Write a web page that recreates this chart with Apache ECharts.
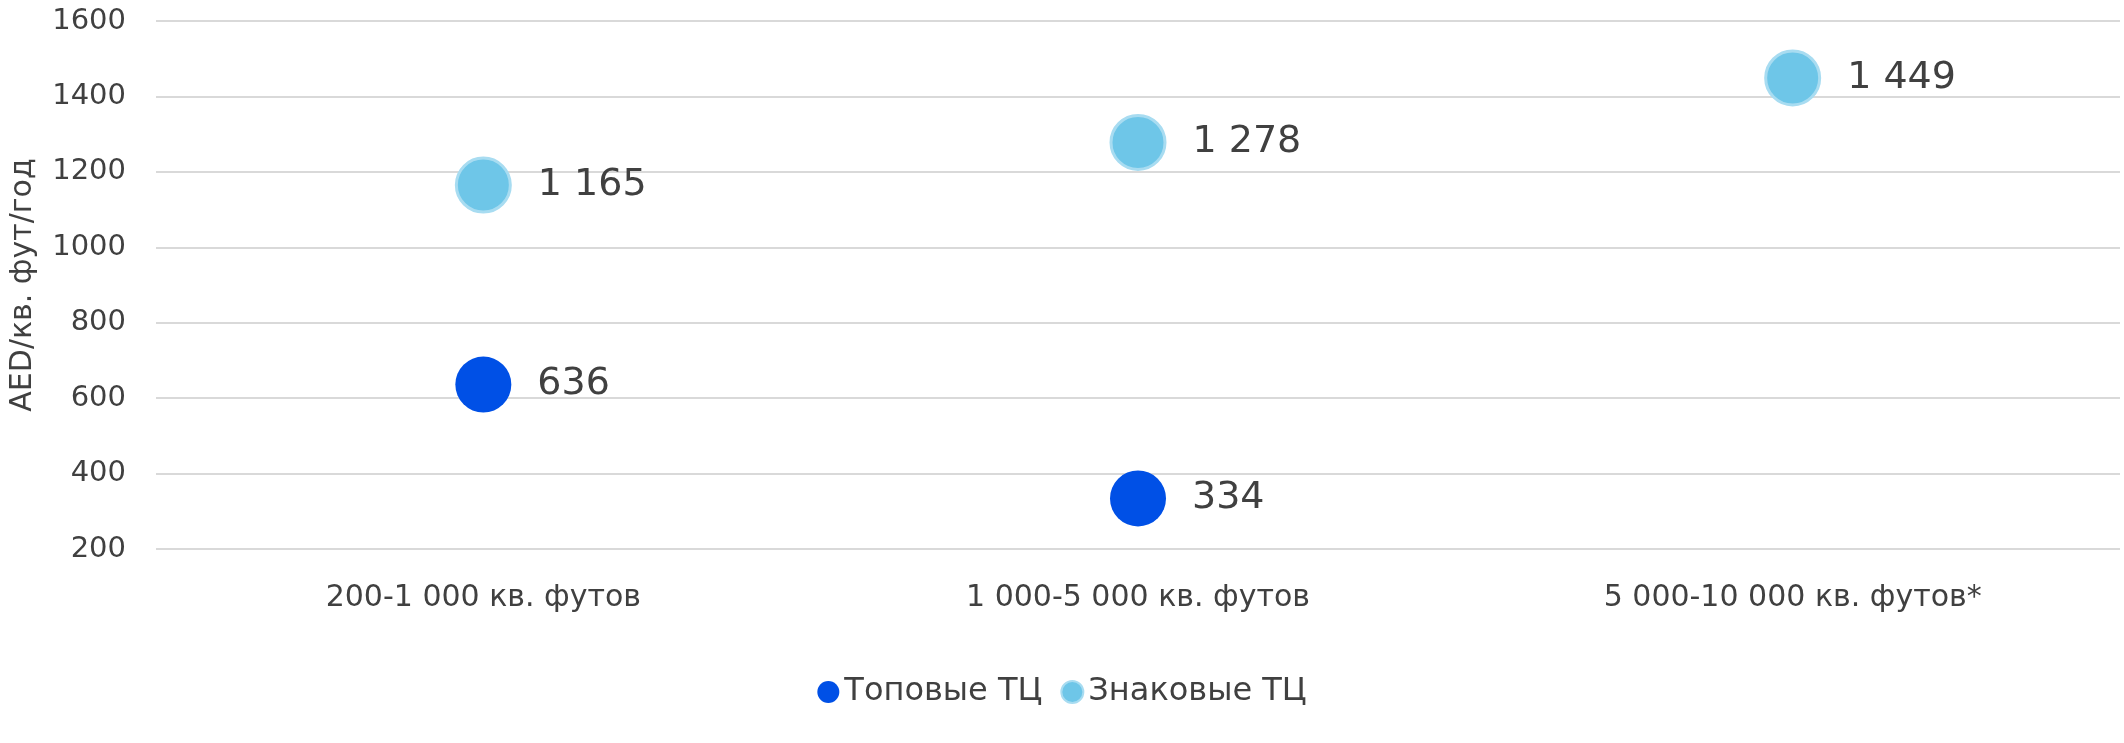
<!DOCTYPE html>
<html><head><meta charset="utf-8">
<script src="https://cdn.jsdelivr.net/npm/echarts@6/dist/echarts.min.js"></script>
<style>html,body{margin:0;padding:0;background:#fff}#c{width:2124px;height:743px}</style>
</head><body><div id="c"></div>
<script>
const categories = ['200-1 000 кв. футов', '1 000-5 000 кв. футов', '5 000-10 000 кв. футов*'];
const topValues = [636, 334, null];
const iconicValues = [1165, 1278, 1449];
const seriesNames = ['Топовые ТЦ', 'Знаковые ТЦ'];
const fmt = v => String(v).replace(/\B(?=(\d{3})+(?!\d))/g, ' ');
const chart = echarts.init(document.getElementById('c'));
const lbl = {show: true, position: 'right', distance: 26, fontSize: 38, color: '#404040', fontFamily: 'DejaVu Sans', formatter: p => fmt(p.value)};
chart.setOption({
  animation: false,
  textStyle: {fontFamily: 'DejaVu Sans'},
  grid: {left: 150, right: 4, top: 21, bottom: 194},
  legend: {bottom: 30, itemGap: 18, itemWidth: 22, itemHeight: 22, textStyle: {fontSize: 32, color: '#404040'},
    data: [{name: seriesNames[0], icon: 'circle'}, {name: seriesNames[1], icon: 'circle'}]},
  xAxis: {type: 'category', data: categories, axisLine: {show: false}, axisTick: {show: false},
    axisLabel: {fontSize: 30, color: '#404040', margin: 34}},
  yAxis: {type: 'value', min: 200, max: 1600, interval: 200, name: 'AED/кв. фут/год', nameLocation: 'middle', nameGap: 118,
    nameTextStyle: {fontSize: 30, color: '#404040'},
    axisLabel: {fontSize: 29, color: '#404040', margin: 30, formatter: v => String(v)}, splitLine: {lineStyle: {color: '#d9d9d9', width: 2}}},
  series: [
    {name: seriesNames[0], type: 'scatter', data: topValues, symbolSize: 56, itemStyle: {color: '#0050e6', opacity: 1}, label: lbl},
    {name: seriesNames[1], type: 'scatter', data: iconicValues, symbolSize: 54, itemStyle: {color: '#6ec6e8', borderColor: '#a8dcf1', borderWidth: 3, opacity: 1}, label: lbl}
  ]
});
</script></body></html>
